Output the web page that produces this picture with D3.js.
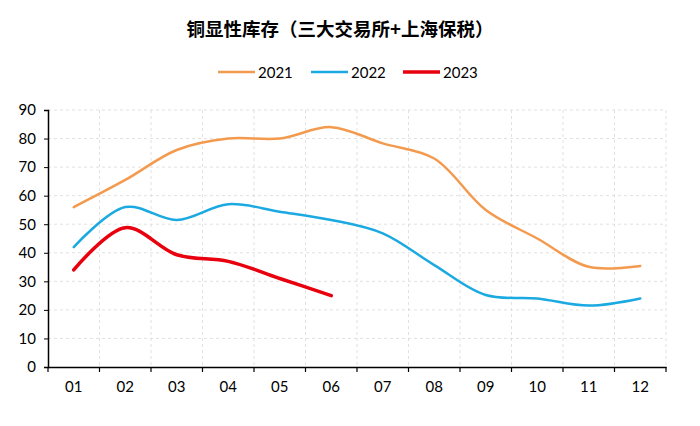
<!DOCTYPE html>
<html><head><meta charset="utf-8">
<script src="https://cdn.jsdelivr.net/npm/d3@7"></script>
<style>body{margin:0;background:#fff}svg{display:block}</style>
</head><body>
<script>
const months = ["01","02","03","04","05","06","07","08","09","10","11","12"];
const s2021 = [56, 65.5, 76, 80, 80, 84, 78.3, 73, 55, 45, 35.1, 35.4];
const s2022 = [42, 56, 51.5, 57, 54.4, 51.5, 46.8, 35.7, 25.2, 24, 21.5, 24];
const s2023 = [34, 48.8, 39.3, 37, 31, 25];
const yTicks = [0,10,20,30,40,50,60,70,80,90];
const seriesNames = ["2021","2022","2023"];
const seriesColors = ["#F39A4F","#1BA9E2","#E8000E"];
const seriesWidths = [2.5,2.5,3.5];

const W=700,H=426;
const svg=d3.select("body").append("svg").attr("width",W).attr("height",H);
const m={l:48,r:34,t:110,b:59};
const x=d3.scaleBand().domain(months).range([m.l,W-m.r]).padding(0);
const y=d3.scaleLinear().domain([0,90]).range([H-m.b,m.t]);

// grid
const g=svg.append("g");
g.selectAll(".hg").data(yTicks.filter(d=>d>0)).join("line")
 .attr("x1",m.l).attr("x2",W-m.r).attr("y1",d=>y(d)).attr("y2",d=>y(d))
 .attr("stroke","#d9d9d9").attr("stroke-dasharray","3,3").attr("stroke-width",0.8);
const bounds=months.map(d=>x(d)+x.bandwidth());
g.selectAll(".vg").data(bounds).join("line")
 .attr("x1",d=>d).attr("x2",d=>d).attr("y1",m.t).attr("y2",y(0))
 .attr("stroke","#d9d9d9").attr("stroke-dasharray","3,3").attr("stroke-width",0.8);

// axes
const ya=svg.append("g").attr("transform",`translate(${m.l},0)`)
 .call(d3.axisLeft(y).tickValues(yTicks).tickSize(4).tickPadding(8));
ya.select(".domain").attr("stroke","#000").attr("stroke-width",1.5);
ya.selectAll("text").attr("font-family","Lato, 'Liberation Sans', sans-serif").attr("font-size",15).attr("fill","#000");
const xa=svg.append("g").attr("transform",`translate(0,${y(0)})`)
 .call(d3.axisBottom(x).tickSize(0).tickPadding(14));
xa.select(".domain").attr("stroke","#000").attr("stroke-width",1.5);
xa.selectAll("text").attr("font-family","Lato, 'Liberation Sans', sans-serif").attr("font-size",15).attr("fill","#000");
xa.selectAll(".bt").data([m.l].concat(bounds)).join("line")
 .attr("x1",d=>d).attr("x2",d=>d).attr("y1",0).attr("y2",5).attr("stroke","#000").attr("stroke-width",1.2);

// lines
const line=d3.line().x((d,i)=>x(months[i])+x.bandwidth()/2).y(d=>y(d)).curve(d3.curveCatmullRom.alpha(0.5));
[s2021,s2022,s2023].forEach((s,i)=>{
  svg.append("path").datum(s).attr("d",line).attr("fill","none")
   .attr("stroke",seriesColors[i]).attr("stroke-width",seriesWidths[i]).attr("stroke-linecap","round");
});

// title
svg.append("text").attr("x",340).attr("y",36).attr("text-anchor","middle")
 .attr("font-family","'Noto Sans CJK SC', sans-serif").attr("font-weight","bold").attr("font-size",18.5)
 .attr("fill","#000").text("铜显性库存（三大交易所+上海保税）");

// legend
const lx=[218,311,403];
seriesNames.forEach((n,i)=>{
  svg.append("line").attr("x1",lx[i]).attr("x2",lx[i]+37).attr("y1",72).attr("y2",72)
   .attr("stroke",seriesColors[i]).attr("stroke-width",seriesWidths[i]);
  svg.append("text").attr("x",lx[i]+40).attr("y",77.5).attr("font-family","Lato, 'Liberation Sans', sans-serif")
   .attr("font-size",15).attr("fill","#000").text(n);
});
</script>
</body></html>
